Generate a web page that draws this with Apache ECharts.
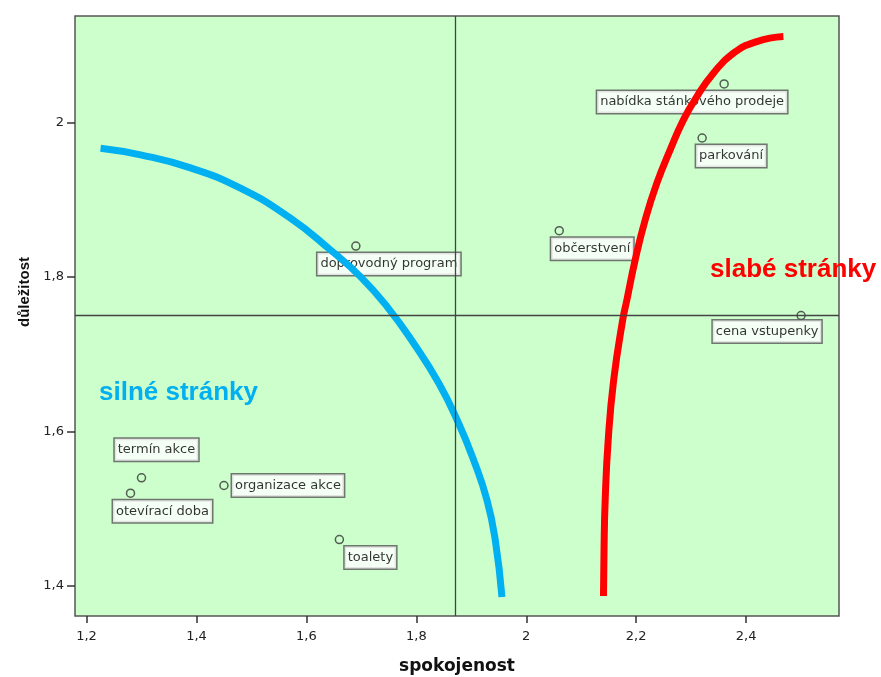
<!DOCTYPE html>
<html>
<head>
<meta charset="utf-8">
<script src="https://cdn.jsdelivr.net/npm/echarts@6/dist/echarts.min.js"></script>
<style>html,body{margin:0;padding:0;background:#fff;}#c{width:881px;height:677px;}</style>
</head>
<body>
<div id="c"></div>
<script>
// ---- data ----
const itemNames = ['nabídka stánkového prodeje','parkování','občerstvení','doprovodný program','cena vstupenky','termín akce','otevírací doba','organizace akce','toalety'];
const satisfaction = [2.36, 2.32, 2.06, 1.69, 2.50, 1.30, 1.28, 1.45, 1.66];
const importance   = [2.05, 1.98, 1.86, 1.84, 1.75, 1.54, 1.52, 1.53, 1.46];
const refSatisfaction = 1.874;
const refImportance = 1.75;
const xTicks = [1.2, 1.4, 1.6, 1.8, 2.0, 2.2, 2.4];
const yTicks = [1.4, 1.6, 1.8, 2.0];
const blueCurveX = [1.2255,1.2982,1.3891,1.4800,1.5709,1.6436,1.6982,1.7467,1.7951,1.8409,1.8769,1.9042,1.9285,1.9436,1.9558];
const blueCurveY = [1.9668,1.9582,1.9413,1.9150,1.8762,1.8351,1.8005,1.7617,1.7142,1.6624,1.6106,1.5631,1.5112,1.4594,1.3856];
const redCurveX = [2.4678,2.4195,2.3769,2.3405,2.3104,2.2860,2.2618,2.2376,2.2164,2.1982,2.1831,2.1755,2.1591,2.1491,2.1436,2.1415,2.1405];
const redCurveY = [2.1114,2.1049,2.0899,2.0640,2.0337,2.0035,1.9646,1.9215,1.8740,1.8222,1.7704,1.7444,1.6667,1.5890,1.5112,1.4465,1.3869];

// ---- layout (label offsets in px, not data) ----
const labelOffsets = [[-32,18],[29,18],[33,18],[33,18],[-34,16],[15,-28],[32,18],[64,0],[31,18]];

const fmt = v => String(Math.round(v*10)/10).replace('.', ',');

const chart = echarts.init(document.getElementById('c'), null, {renderer:'canvas'});
const scatterData = itemNames.map((n,i)=>({
  name:n, value:[satisfaction[i], importance[i]],
  label:{offset:labelOffsets[i]}
}));
const zip = (a,b)=>a.map((v,i)=>[v,b[i]]);

chart.setOption({
  animation:false,
  backgroundColor:'#ffffff',
  grid:{left:75, top:16, width:764, height:600, show:true, backgroundColor:'#ccffcc', borderColor:'#555', borderWidth:1.5},
  xAxis:{type:'value', min:1.179, max:2.569,
    axisLine:{show:false}, splitLine:{show:false},
    axisTick:{show:true, length:7, lineStyle:{color:'#333', width:1.5}, customValues:xTicks},
    axisLabel:{customValues:xTicks, formatter:fmt, margin:14, fontFamily:'DejaVu Sans', fontSize:13, color:'#222'}
  },
  yAxis:{type:'value', min:1.361, max:2.138,
    axisLine:{show:false}, splitLine:{show:false},
    axisTick:{show:true, length:8, lineStyle:{color:'#333', width:1.5}, customValues:yTicks},
    axisLabel:{customValues:yTicks, formatter:fmt, margin:11, fontFamily:'DejaVu Sans', fontSize:13, color:'#222'}
  },
  series:[
    {type:'scatter', z:2, symbol:'circle', symbolSize:8,
     itemStyle:{color:'rgba(0,0,0,0)', borderColor:'#333', borderWidth:1.5},
     label:{show:true, position:'inside', formatter:'{b}', fontFamily:'DejaVu Sans', fontSize:13, color:'#000',
       backgroundColor:'#fff', borderColor:'#555', borderWidth:1.5, padding:[5,3,4,3], align:'center', verticalAlign:'middle'},
     data:scatterData},
    {type:'line', z:3, data:[], silent:true,
     markLine:{silent:true, symbol:['none','none'], label:{show:false}, lineStyle:{color:'#444', width:1.3, type:'solid'},
       data:[{xAxis:refSatisfaction},{yAxis:refImportance}]}},
    {type:'line', z:4, smooth:0.5, showSymbol:false, silent:true, lineStyle:{color:'#00b0f0', width:7, cap:'butt'}, data:zip(blueCurveX, blueCurveY)},
    {type:'line', z:4, smooth:0.5, showSymbol:false, silent:true, lineStyle:{color:'#ff0000', width:7, cap:'butt'}, data:zip(redCurveX, redCurveY)}
  ],
  graphic:[
    {type:'text', x:99, y:393, z:10, style:{text:'silné stránky', fill:'#00b0f0', font:'bold 26px "Liberation Sans", Arial, sans-serif', align:'left', verticalAlign:'middle'}},
    {type:'text', x:710, y:270, z:10, style:{text:'slabé stránky', fill:'#ff0000', font:'bold 26px "Liberation Sans", Arial, sans-serif', align:'left', verticalAlign:'middle'}},
    {type:'text', x:457, y:667, style:{text:'spokojenost', fill:'#111', font:'bold 17px "DejaVu Sans", sans-serif', align:'center', verticalAlign:'middle'}},
    {type:'text', x:25, y:292, rotation:Math.PI/2, style:{text:'důležitost', fill:'#111', font:'bold 15px "Liberation Sans", Arial, sans-serif', align:'center', verticalAlign:'middle'}}
  ]
});
</script>
</body>
</html>
